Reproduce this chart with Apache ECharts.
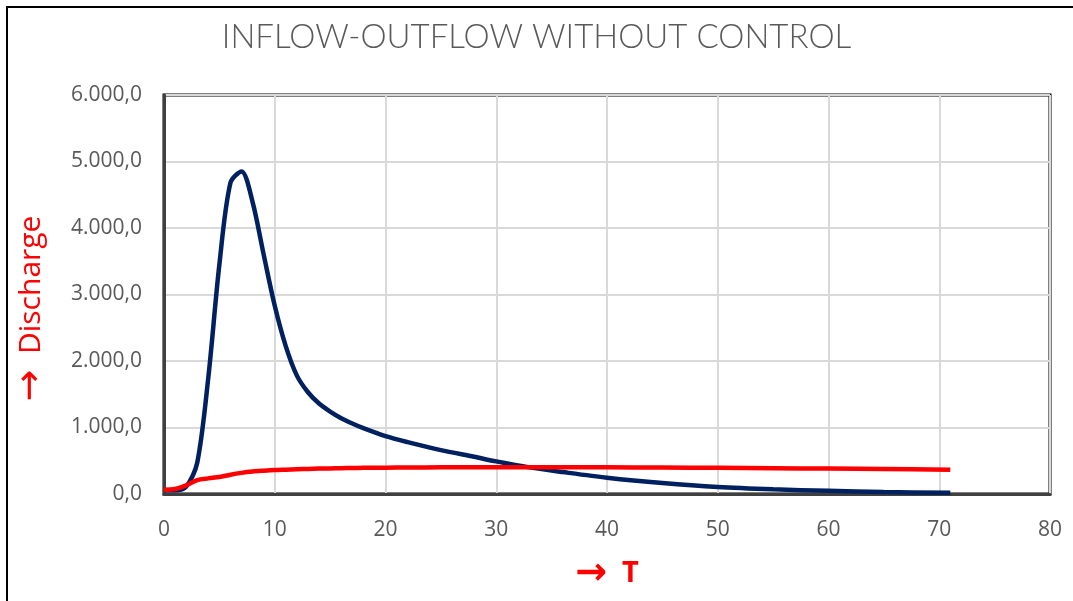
<!DOCTYPE html>
<html>
<head>
<meta charset="utf-8">
<script src="https://cdn.jsdelivr.net/npm/echarts@6/dist/echarts.min.js"></script>
<style>
  html, body { margin: 0; padding: 0; background: #fff; }
  #main { width: 1073px; height: 601px; }
</style>
</head>
<body>
<div id="main"></div>
<script>
var timeSteps = [0, 1, 2, 3, 4, 5, 6, 7, 8, 9, 10, 11, 12, 13, 14, 15, 16, 17, 18, 20, 22, 25, 28, 30, 33, 36, 40, 45, 50, 55, 60, 65, 71];
var inflow = [60, 55, 110, 470, 1750, 3450, 4680, 4850, 4390, 3600, 2830, 2220, 1780, 1530, 1360, 1240, 1140, 1060, 990, 870, 780, 660, 560, 490, 400, 330, 245, 165, 105, 70, 48, 30, 18];
var outflow = [65, 75, 130, 210, 235, 255, 290, 318, 338, 350, 360, 366, 372, 377, 382, 385, 388, 391, 393, 396, 399, 401, 403, 404, 404, 404, 402, 398, 393, 388, 382, 375, 365];
var xTicks = { min: 0, max: 80, step: 10 };
var yTicks = { min: 0, max: 6000, step: 1000 };

function pairs(xs, ys) {
  return xs.map(function (x, i) { return [x, ys[i]]; });
}

// 6000 -> "6.000,0"
function fmt(v) {
  var parts = v.toFixed(1).split('.');
  return parts[0].replace(/\B(?=(\d{3})+(?!\d))/g, '.') + ',' + parts[1];
}

var myChart = echarts.init(document.getElementById('main'));
var labelFont = 'Open Sans';

myChart.setOption({
  animation: false,
  backgroundColor: '#fff',
  title: {
    text: 'INFLOW-OUTFLOW WITHOUT CONTROL',
    left: 'center',
    top: 16,
    textStyle: {
      fontFamily: 'Lato',
      fontSize: 33,
      fontWeight: 300,
      color: '#595959'
    }
  },
  graphic: [{
    type: 'rect',
    shape: { x: 7, y: 7, width: 1100, height: 620 },
    style: { fill: 'none', stroke: '#000', lineWidth: 2 },
    silent: true
  }],
  grid: {
    left: 164,
    right: 23,
    top: 95,
    bottom: 107,
    show: true,
    borderColor: '#000',
    borderWidth: 3
  },
  xAxis: {
    type: 'value',
    min: xTicks.min,
    max: xTicks.max,
    interval: xTicks.step,
    name: '{a|→}  T',
    nameLocation: 'middle',
    nameGap: 61,
    nameTextStyle: {
      color: '#ff0000', fontSize: 29, fontWeight: 'bold', fontFamily: labelFont,
      rich: { a: { fontFamily: 'DejaVu Sans', fontSize: 38, fontWeight: 'bold', color: '#ff0000' } }
    },
    axisLine: { show: true, lineStyle: { color: '#404040', width: 3 } },
    axisTick: { show: false },
    axisLabel: { color: '#595959', fontSize: 21, fontFamily: labelFont, margin: 26 },
    splitLine: { show: true, lineStyle: { color: '#d9d9d9', width: 2 } }
  },
  yAxis: {
    type: 'value',
    min: yTicks.min,
    max: yTicks.max,
    interval: yTicks.step,
    name: '{a|→}  Discharge',
    nameLocation: 'middle',
    nameGap: 114,
    nameRotate: 90,
    nameTextStyle: {
      color: '#ff0000', fontSize: 30, fontFamily: labelFont,
      padding: [0, 28, 0, 0],
      rich: { a: { fontFamily: 'DejaVu Sans', fontSize: 38, color: '#ff0000' } }
    },
    axisLine: { show: true, lineStyle: { color: '#404040', width: 3 } },
    axisTick: { show: false },
    axisLabel: { color: '#595959', fontSize: 21, fontFamily: labelFont, margin: 22, formatter: fmt },
    splitLine: { show: true, lineStyle: { color: '#d9d9d9', width: 2 } }
  },
  series: [{
    name: 'Inflow',
    type: 'line',
    data: pairs(timeSteps, inflow),
    smooth: 0.3,
    showSymbol: false,
    lineStyle: { color: '#002060', width: 4.5 },
    itemStyle: { color: '#002060' }
  }, {
    name: 'Outflow',
    type: 'line',
    data: pairs(timeSteps, outflow),
    smooth: 0.3,
    showSymbol: false,
    lineStyle: { color: '#ff0000', width: 4.5 },
    itemStyle: { color: '#ff0000' }
  }]
});
</script>
</body>
</html>
